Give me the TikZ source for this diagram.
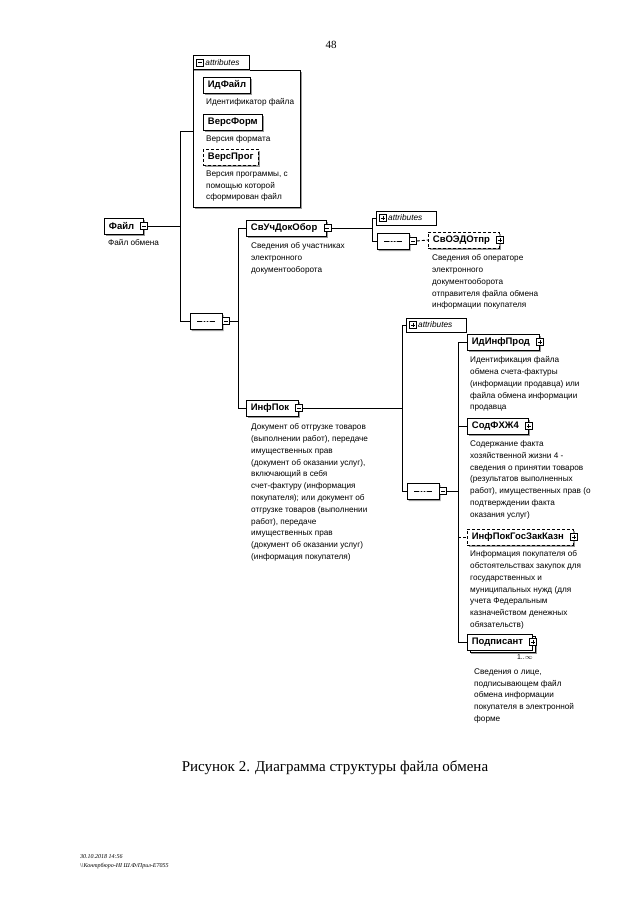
\documentclass[tikz,border=0pt]{standalone}
\usepackage{fontspec}
\setmainfont{Liberation Serif}
\setsansfont{Liberation Sans}
\usetikzlibrary{positioning}
\usetikzlibrary{shapes.misc}
\usetikzlibrary{shadows}

\tikzset{
  attrelem/.style={
    draw, thick, fill=white, anchor=west,
    inner xsep=4.5pt, inner ysep=0pt, minimum height=16pt,
    font=\sffamily\bfseries\fontsize{9.5}{10}\selectfont,
    drop shadow={shadow xshift=1.6pt, shadow yshift=-1.6pt,
      fill=black!40, opacity=1},
  },
  elem/.style={attrelem, execute at end node=\hspace*{5pt}},
  optelem/.style={elem, densely dashed},
  manyelem/.style={
    draw, thick, fill=white, anchor=west,
    inner xsep=4.5pt, inner ysep=0pt, minimum height=16pt,
    font=\sffamily\bfseries\fontsize{9.5}{10}\selectfont,
    execute at end node=\hspace*{5pt},
    drop shadow={shadow xshift=4pt, shadow yshift=-4pt,
      fill=black!40, opacity=1},
    copy shadow={shadow xshift=2.5pt, shadow yshift=-2.5pt},
  },
  tog/.style={
    draw, fill=white, inner sep=0pt, minimum size=7pt,
    path picture={
      \draw ([xshift=1.4pt]path picture bounding box.west)
        -- ([xshift=-1.4pt]path picture bounding box.east);
    },
  },
  togplus/.style={
    draw, fill=white, inner sep=0pt, minimum size=7pt,
    path picture={
      \draw ([xshift=1.4pt]path picture bounding box.west)
        -- ([xshift=-1.4pt]path picture bounding box.east)
        ([yshift=1.4pt]path picture bounding box.south)
        -- ([yshift=-1.4pt]path picture bounding box.north);
    },
  },
  seq/.style={
    chamfered rectangle, chamfered rectangle xsep=6pt,
    chamfered rectangle ysep=5pt,
    draw, thick, fill=white, inner sep=0pt,
    minimum width=32pt, minimum height=16pt,
    drop shadow={shadow xshift=1.5pt, shadow yshift=-2pt,
      fill=black!40, opacity=1},
    path picture={
      \draw ([xshift=7pt]path picture bounding box.west)
        -- ([xshift=-7pt]path picture bounding box.east);
      \foreach \k in {-3,0,3}
        \fill ([xshift=\k pt]path picture bounding box.center) circle (1pt);
    },
  },
  attrbox/.style={
    draw, fill=white, anchor=west, align=left, text width=54pt,
    inner xsep=3pt, inner ysep=0pt, minimum height=14pt,
    font=\sffamily\itshape\fontsize{8.3}{9}\selectfont,
    drop shadow={shadow xshift=1pt, shadow yshift=-1pt,
      fill=black!40, opacity=1},
  },
  attrpanel/.style={
    draw, thick, fill=white, anchor=north west, inner sep=0pt,
    drop shadow={shadow xshift=1.5pt, shadow yshift=-1.5pt,
      fill=black!40, opacity=1},
  },
  desc/.style={
    anchor=north west, inner sep=0pt, align=left,
    font=\sffamily\fontsize{8.2}{11.8}\selectfont,
  },
  link/.style={line width=0.9pt},
  optlink/.style={line width=0.9pt, densely dashed},
}

\begin{document}
\begin{tikzpicture}[x=1pt, y=-1pt]
  \useasboundingbox[fill=white] (0,0) rectangle (640,905);

  \node[font=\fontsize{11}{13}\selectfont] (pnum) at (331,45) {48};

  % root
  \node[elem] (fajl) at (104,226) {Файл};
  \node[tog] (fajl-t) at (fajl.east) {};
  \node[below=5pt of fajl.south west, desc, xshift=4pt] (fajl-d) {Файл обмена};

  % attributes of the root
  \node[attrpanel, minimum width=107pt, minimum height=137pt] (fattr) at (193,70) {};
  \node[attrbox, anchor=south west, draw, thick, text width=50pt] (fattr-tab)
    at (fattr.north west) {\hspace*{9pt}attributes};
  \node[tog] (fattr-t) at ([xshift=7pt]fattr-tab.west) {};

  \node[attrelem] (idfajl) at (203,85) {ИдФайл};
  \node[below=5pt of idfajl.south west, desc, xshift=3pt] (idfajl-d) {Идентификатор файла};
  \node[attrelem] (versform) at (203,122) {ВерсФорм};
  \node[below=5pt of versform.south west, desc, xshift=3pt] (versform-d) {Версия формата};
  \node[attrelem, densely dashed] (versprog) at (203,157) {ВерсПрог};
  \node[below=5pt of versprog.south west, desc, xshift=3pt] (versprog-d)
    {Версия программы, с\\помощью которой\\сформирован файл};

  % sequence of the root
  \node[seq] (seq1) at (206,321) {};
  \node[tog, anchor=west] (seq1-t) at (seq1.east) {};

  \coordinate (busA-t) at (180,131);
  \coordinate (busA-b) at (180,321);

  % first level
  \node[elem] (svuch) at (246,228) {СвУчДокОбор};
  \node[tog] (svuch-t) at (svuch.east) {};
  \node[below=6pt of svuch.south west, desc, xshift=5pt] (svuch-d)
    {Сведения об участниках\\электронного\\документооборота};

  \node[elem] (infpok) at (246,408) {ИнфПок};
  \node[tog] (infpok-t) at (infpok.east) {};
  \node[below=7pt of infpok.south west, desc, xshift=5pt] (infpok-d)
    {Документ об отгрузке товаров\\(выполнении работ), передаче\\имущественных прав\\
     (документ об оказании услуг),\\включающий в себя\\счет-фактуру (информация\\
     покупателя); или документ об\\отгрузке товаров (выполнении\\работ), передаче\\
     имущественных прав\\(документ об оказании услуг)\\(информация покупателя)};

  \coordinate (busB-t) at (238,228);
  \coordinate (busB-b) at (238,408);

  % inside СвУчДокОбор
  \node[attrbox] (svuch-a) at (376,218) {\hspace*{9pt}attributes};
  \node[togplus] (svuch-at) at ([xshift=7pt]svuch-a.west) {};
  \node[seq] (seq2) at (393,241) {};
  \node[tog, anchor=west] (seq2-t) at (seq2.east) {};
  \node[optelem] (svoedo) at (428,240) {СвОЭДОтпр};
  \node[togplus] (svoedo-t) at (svoedo.east) {};
  \node[below=6pt of svoedo.south west, desc, xshift=4pt] (svoedo-d)
    {Сведения об операторе\\электронного\\документооборота\\
     отправителя файла обмена\\информации покупателя};

  \coordinate (busC-t) at (372,218);
  \coordinate (busC-b) at (372,241);

  % inside ИнфПок
  \node[attrbox] (infpok-a) at (406,325) {\hspace*{9pt}attributes};
  \node[togplus] (infpok-at) at ([xshift=7pt]infpok-a.west) {};
  \node[seq] (seq3) at (423,491) {};
  \node[tog, anchor=west] (seq3-t) at (seq3.east) {};

  \coordinate (busD-t) at (402,325);
  \coordinate (busD-b) at (402,491);

  \node[elem] (idinf) at (467,342) {ИдИнфПрод};
  \node[togplus] (idinf-t) at (idinf.east) {};
  \node[below=6pt of idinf.south west, desc, xshift=3pt] (idinf-d)
    {Идентификация файла\\обмена счета-фактуры\\(информации продавца) или\\
     файла обмена информации\\продавца};

  \node[elem] (sodfh) at (467,426) {СодФХЖ4};
  \node[togplus] (sodfh-t) at (sodfh.east) {};
  \node[below=6pt of sodfh.south west, desc, xshift=3pt] (sodfh-d)
    {Содержание факта\\хозяйственной жизни 4 -\\сведения о принятии товаров\\
     (результатов выполненных\\работ), имущественных прав (о\\подтверждении факта\\
     оказания услуг)};

  \node[optelem] (infgos) at (467,537) {ИнфПокГосЗакКазн};
  \node[togplus] (infgos-t) at (infgos.east) {};
  \node[below=5pt of infgos.south west, desc, xshift=3pt] (infgos-d)
    {Информация покупателя об\\обстоятельствах закупок для\\государственных и\\
     муниципальных нужд (для\\учета Федеральным\\казначейством денежных\\
     обязательств)};

  \node[manyelem] (podp) at (467,642) {Подписант};
  \node[togplus] (podp-t) at (podp.east) {};
  \node[anchor=north east, inner sep=0pt, font=\sffamily\fontsize{7}{8}\selectfont]
    (podp-m) at ([yshift=-4pt]podp.south east) {1..$\infty$};
  \node[below=18pt of podp.south west, desc, xshift=7pt] (podp-d)
    {Сведения о лице,\\подписывающем файл\\обмена информации\\
     покупателя в электронной\\форме};

  \coordinate (busE-t) at (458,342);
  \coordinate (busE-b) at (458,642);

  % connectors
  \begin{scope}[link]
    \draw (fajl-t.east) -- (fajl-t.east -| busA-t);
    \draw (busA-t) -- (busA-b);
    \draw (busA-t) -- (busA-t -| fattr.west);
    \draw (busA-b) -- (seq1.west);

    \draw (seq1-t.east) -- (seq1-t.east -| busB-t);
    \draw (busB-t) -- (busB-b);
    \draw (busB-t) -- (svuch.west);
    \draw (busB-b) -- (infpok.west);

    \draw (svuch-t.east) -- (svuch-t.east -| busC-t);
    \draw (busC-t) -- (busC-b);
    \draw (busC-t) -- (svuch-a.west);
    \draw (busC-b) -- (seq2.west);
    \draw[optlink] (seq2-t.east) -- (svoedo.west);

    \draw (infpok-t.east) -- (infpok-t.east -| busD-t);
    \draw (busD-t) -- (busD-b);
    \draw (busD-t) -- (infpok-a.west);
    \draw (busD-b) -- (seq3.west);

    \draw (seq3-t.east) -- (seq3-t.east -| busE-t);
    \draw (busE-t) -- (busE-b);
    \draw (busE-t) -- (idinf.west);
    \draw (sodfh.west -| busE-t) -- (sodfh.west);
    \draw[optlink] (infgos.west -| busE-t) -- (infgos.west);
    \draw (busE-b) -- (podp.west);
  \end{scope}

  \node[font=\fontsize{15}{18}\selectfont] (cap) at (335,768)
    {Рисунок 2. Диаграмма структуры файла обмена};

  \node[anchor=west, align=left, inner sep=0pt, font=\itshape\fontsize{6}{9}\selectfont]
    (foot) at (80,862) {30.10.2018 14:56\\\textbackslash\textbackslash Контрбюро-НI Ш.Ф/Прил-Е7055};
\end{tikzpicture}
\end{document}
